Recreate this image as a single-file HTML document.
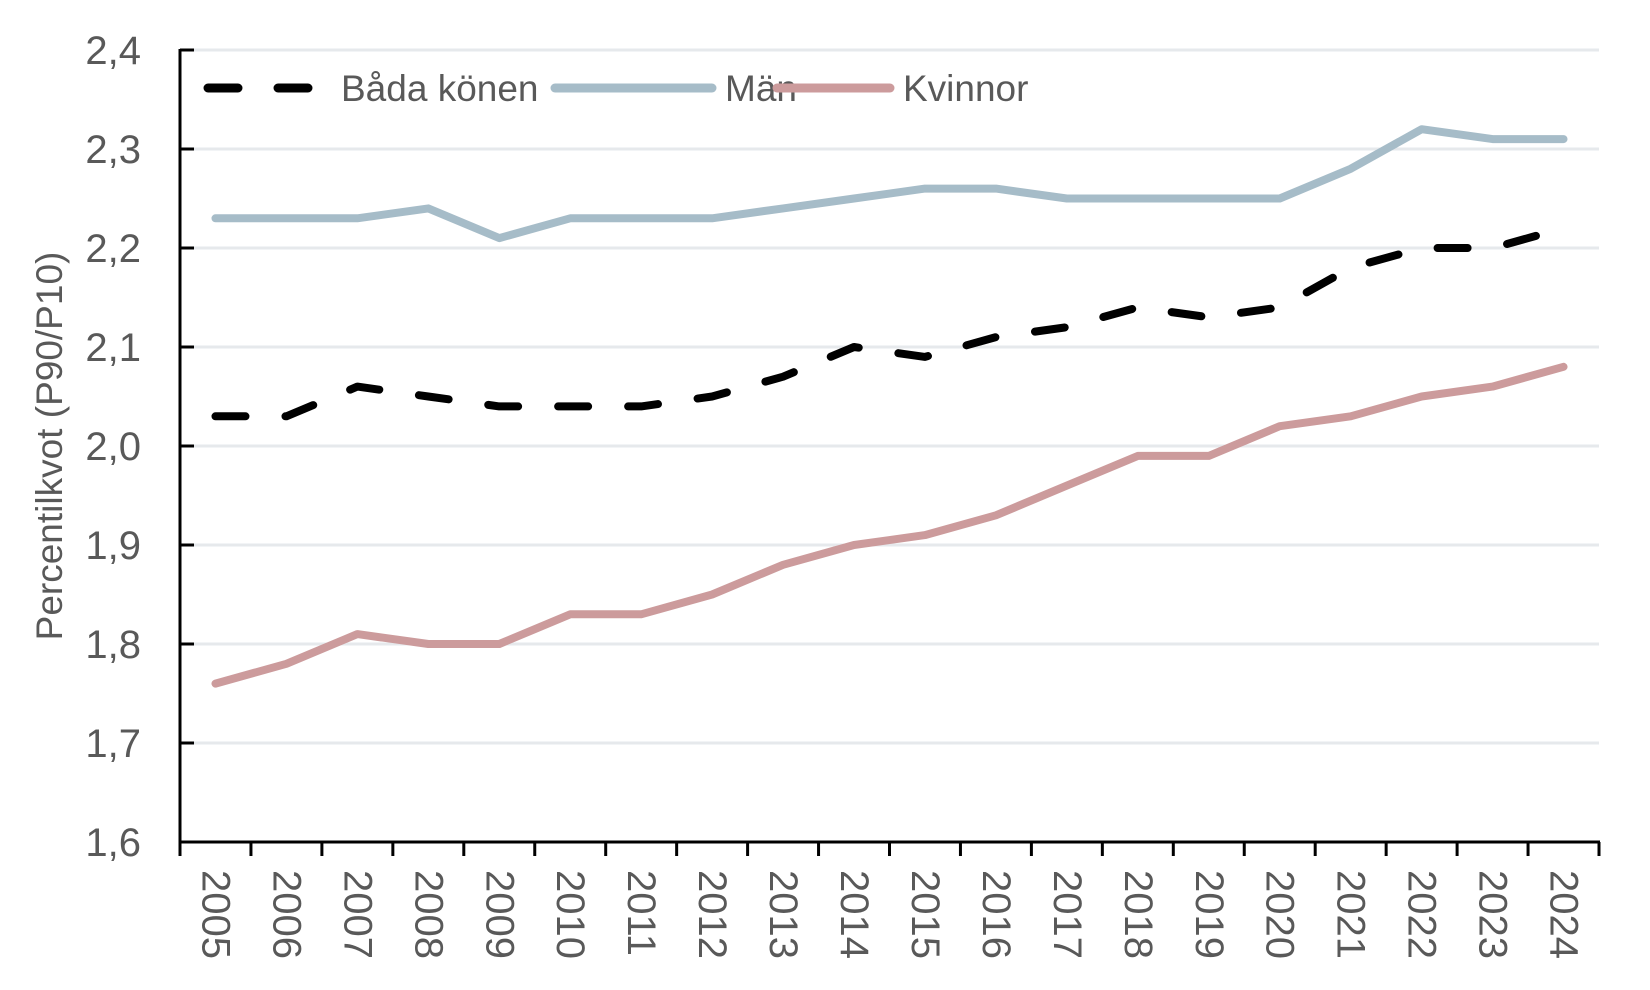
<!DOCTYPE html>
<html><head><meta charset="utf-8"><style>
body{margin:0;background:#fff}
svg{display:block;font-family:"Liberation Sans",sans-serif}
</style></head><body>
<svg id="chart" width="1650" height="990"></svg>
<script>
const years=["2005","2006","2007","2008","2009","2010","2011","2012","2013","2014","2015","2016","2017","2018","2019","2020","2021","2022","2023","2024"];
const both=[2.03,2.03,2.06,2.05,2.04,2.04,2.04,2.05,2.07,2.10,2.09,2.11,2.12,2.14,2.13,2.14,2.18,2.20,2.20,2.22];
const men=[2.23,2.23,2.23,2.24,2.21,2.23,2.23,2.23,2.24,2.25,2.26,2.26,2.25,2.25,2.25,2.25,2.28,2.32,2.31,2.31];
const women=[1.76,1.78,1.81,1.80,1.80,1.83,1.83,1.85,1.88,1.90,1.91,1.93,1.96,1.99,1.99,2.02,2.03,2.05,2.06,2.08];
const yTicks=["1,6","1,7","1,8","1,9","2,0","2,1","2,2","2,3","2,4"];
const yMin=1.6,yMax=2.4;
const L=180,R=1599,T=50,B=842;
const NS="http://www.w3.org/2000/svg";
const svg=document.getElementById('chart');
const bw=(R-L)/years.length;
const x=i=>L+bw*(i+0.5);
const y=v=>B-(v-yMin)/(yMax-yMin)*(B-T);
function mk(tag,attrs,parent){const e=document.createElementNS(NS,tag);for(const k in attrs)e.setAttribute(k,attrs[k]);(parent||svg).appendChild(e);return e;}
// gridlines and y ticks
yTicks.forEach((t,i)=>{
  const v=yMin+i*0.1, yy=y(v);
  if(i>0){const g=mk('line',{x1:L,x2:R,y1:yy,y2:yy,stroke:'#e6e9ec','stroke-width':3});
  
  }
  const tk=mk('line',{x1:L,x2:L+14,y1:yy,y2:yy,stroke:'#000','stroke-width':3});
  
  
  const tx=mk('text',{x:141,y:yy+14,'text-anchor':'end','font-size':40,fill:'#595959'});
  tx.textContent=t;
  
  
});
// axes
const ya=mk('line',{x1:L,x2:L,y1:T-1,y2:B,stroke:'#000','stroke-width':3});


const xa=mk('line',{x1:L-1,x2:R+1,y1:B,y2:B,stroke:'#000','stroke-width':3});


for(let i=0;i<=years.length;i++){
  const xx=L+bw*i;
  const tk=mk('line',{x1:xx,x2:xx,y1:B,y2:B+14,stroke:'#000','stroke-width':3});
  
  
}
years.forEach((yr,i)=>{
  const tx=mk('text',{transform:`translate(${x(i)-13},870) rotate(90)`,'font-size':40,fill:'#595959'});
  tx.textContent=yr;
  
  
});
const yt=mk('text',{transform:'translate(62,446) rotate(-90)','text-anchor':'middle','font-size':37,fill:'#595959'});
yt.textContent='Percentilkvot (P90/P10)';


// series
function series(vals,color,name,dash){
  const p=mk('polyline',{points:vals.map((v,i)=>x(i)+','+y(v)).join(' '),fill:'none',stroke:color,'stroke-width':8,'stroke-linejoin':'round','stroke-linecap':'round'});
  if(dash)p.setAttribute('stroke-dasharray',dash);
  
  
}
series(men,'#a6bcc8','series-man');
series(women,'#cc9b9c','series-kvinnor');
series(both,'#000','series-bada-konen','30 40');
// legend
function leg(x1,x2,tx,color,label,name,dash){
  const l=mk('line',{x1:x1,x2:x2,y1:88,y2:88,stroke:color,'stroke-width':9,'stroke-linecap':'round'});
  if(dash)l.setAttribute('stroke-dasharray',dash);
  
  
  const t=mk('text',{x:tx,y:101,'font-size':37,fill:'#595959'});
  t.textContent=label;
  
  
}
leg(208,308,341,'#000','Båda könen','legend-bada-konen','30 40');
leg(555,712,725,'#a6bcc8','Män','legend-man');
leg(777,890,903,'#cc9b9c','Kvinnor','legend-kvinnor');
</script>
</body></html>
